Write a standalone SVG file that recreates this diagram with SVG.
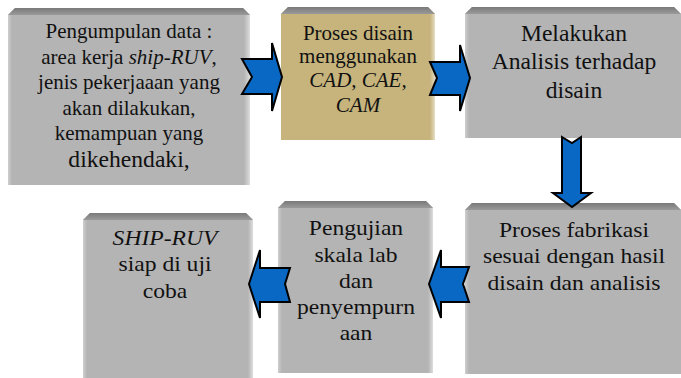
<svg xmlns="http://www.w3.org/2000/svg" width="681" height="378" viewBox="0 0 681 378">
<defs>
<linearGradient id="bev" x1="0" y1="0" x2="0" y2="1">
<stop offset="0" stop-color="#7a7a7a"/>
<stop offset="1" stop-color="#9a9a9a"/>
</linearGradient>
<linearGradient id="edgeR" x1="0" y1="0" x2="1" y2="0">
<stop offset="0" stop-color="#ffffff" stop-opacity="0"/>
<stop offset="1" stop-color="#ffffff" stop-opacity="0.55"/>
</linearGradient>
<linearGradient id="edgeL" x1="0" y1="0" x2="1" y2="0">
<stop offset="0" stop-color="#ffffff" stop-opacity="0.35"/>
<stop offset="1" stop-color="#ffffff" stop-opacity="0"/>
</linearGradient>
</defs>
<style>
.gray{fill:#b4b4b4}
.tan{fill:#c6b47c}
.bev{fill:url(#bev)}
.er{fill:url(#edgeR)}
.el{fill:url(#edgeL)}
.t{font-size:20px;fill:#111;text-anchor:middle}
.big{font-size:22.5px}
.arr{fill:#0868c4;stroke:#000;stroke-width:2;stroke-linejoin:miter}
</style>

<g id="n1">
<polygon class="gray" points="8,15 15,8 243,8 250,15 250,185 8,185"/>
<polygon class="bev" points="15,8 243,8 250,15 8,15"/>
<rect class="er" x="244" y="15" width="6" height="170"/>
<rect class="el" x="8" y="15" width="4" height="170"/>
<g transform="translate(129,0) scale(1.05,1)" font-family="Liberation Serif, Times New Roman, serif">
<text class="t" x="0" y="38">Pengumpulan data :</text>
<text class="t" x="0" y="64">area kerja <tspan font-style="italic">ship-RUV</tspan>,</text>
<text class="t" x="0" y="89.5">jenis pekerjaaan yang</text>
<text class="t" x="0" y="115">akan dilakukan,</text>
<text class="t" x="0" y="140.5">kemampuan yang</text>
<text class="t big" x="0" y="167">dikehendaki,</text>
</g>
</g>

<g id="n2">
<polygon class="tan" points="281,14 288,7 428,7 435,14 435,140 281,140"/>
<polygon class="bev" points="288,7 428,7 435,14 281,14"/>
<rect class="er" x="430" y="14" width="5" height="126"/>
<g transform="translate(358,0) scale(1.05,1)" font-family="Liberation Serif, Times New Roman, serif">
<text class="t" x="0" y="40">Proses disain</text>
<text class="t" x="0" y="63.5">menggunakan</text>
<text class="t" x="0" y="87.5" font-style="italic">CAD, CAE,</text>
<text class="t" x="0" y="112.5" font-style="italic">CAM</text>
</g>
</g>

<g id="n3">
<polygon class="gray" points="465,14 472,7 674,7 681,14 681,138 465,138"/>
<polygon class="bev" points="472,7 674,7 681,14 465,14"/>
<rect class="el" x="465" y="14" width="4" height="124"/>
<g transform="translate(574,0) scale(1.05,1)" font-family="Liberation Serif, Times New Roman, serif">
<text class="t big" x="0" y="41">Melakukan</text>
<text class="t big" x="0" y="69.5">Analisis terhadap</text>
<text class="t big" x="0" y="98">disain</text>
</g>
</g>

<g id="n4">
<polygon class="gray" points="465,210 472,203 674,203 681,210 681,374 465,374"/>
<polygon class="bev" points="472,203 674,203 681,210 465,210"/>
<rect class="el" x="465" y="210" width="4" height="164"/>
<g transform="translate(574,0) scale(1.18,1)" font-family="Liberation Serif, Times New Roman, serif">
<text class="t" x="0" y="237">Proses fabrikasi</text>
<text class="t" x="0" y="263.5">sesuai dengan hasil</text>
<text class="t" x="0" y="290">disain dan analisis</text>
</g>
</g>

<g id="n5">
<polygon class="gray" points="278,208 285,201 426,201 433,208 433,373 278,373"/>
<polygon class="bev" points="285,201 426,201 433,208 278,208"/>
<rect class="er" x="428" y="208" width="5" height="165"/>
<rect class="el" x="278" y="208" width="4" height="165"/>
<g transform="translate(356,0) scale(1.18,1)" font-family="Liberation Serif, Times New Roman, serif">
<text class="t" x="0" y="235.5">Pengujian</text>
<text class="t" x="0" y="262">skala lab</text>
<text class="t" x="0" y="288">dan</text>
<text class="t" x="0" y="314">penyempurn</text>
<text class="t" x="0" y="340">aan</text>
</g>
</g>

<g id="n6">
<polygon class="gray" points="83,220 90,213 246,213 253,220 253,380 83,380"/>
<polygon class="bev" points="90,213 246,213 253,220 83,220"/>
<rect class="er" x="248" y="220" width="5" height="160"/>
<rect class="el" x="83" y="220" width="4" height="160"/>
<g transform="translate(165,0) scale(1.18,1)" font-family="Liberation Serif, Times New Roman, serif">
<text class="t" x="0" y="245" font-style="italic">SHIP-RUV</text>
<text class="t" x="0" y="271.5">siap di uji</text>
<text class="t" x="0" y="298">coba</text>
</g>
</g>

<g id="connectors">
<polygon class="arr" points="242,59 272,59 272,43 282,77 272,111 272,94 242,94 252,77"/>
<polygon class="arr" points="430,62 460,62 460,45 470,78 460,111 460,95 430,95 437,78"/>
<polygon class="arr" points="562,137 572,143 581,137 581,193 591,193 572,207 553,193 562,193"/>
<polygon class="arr" points="429,284 441,250 441,267 469,267 463,284 469,302 441,302 441,318"/>
<polygon class="arr" points="249,284 260,250 260,268 290,268 285,284 290,302 260,302 260,318"/>
</g>
</svg>
